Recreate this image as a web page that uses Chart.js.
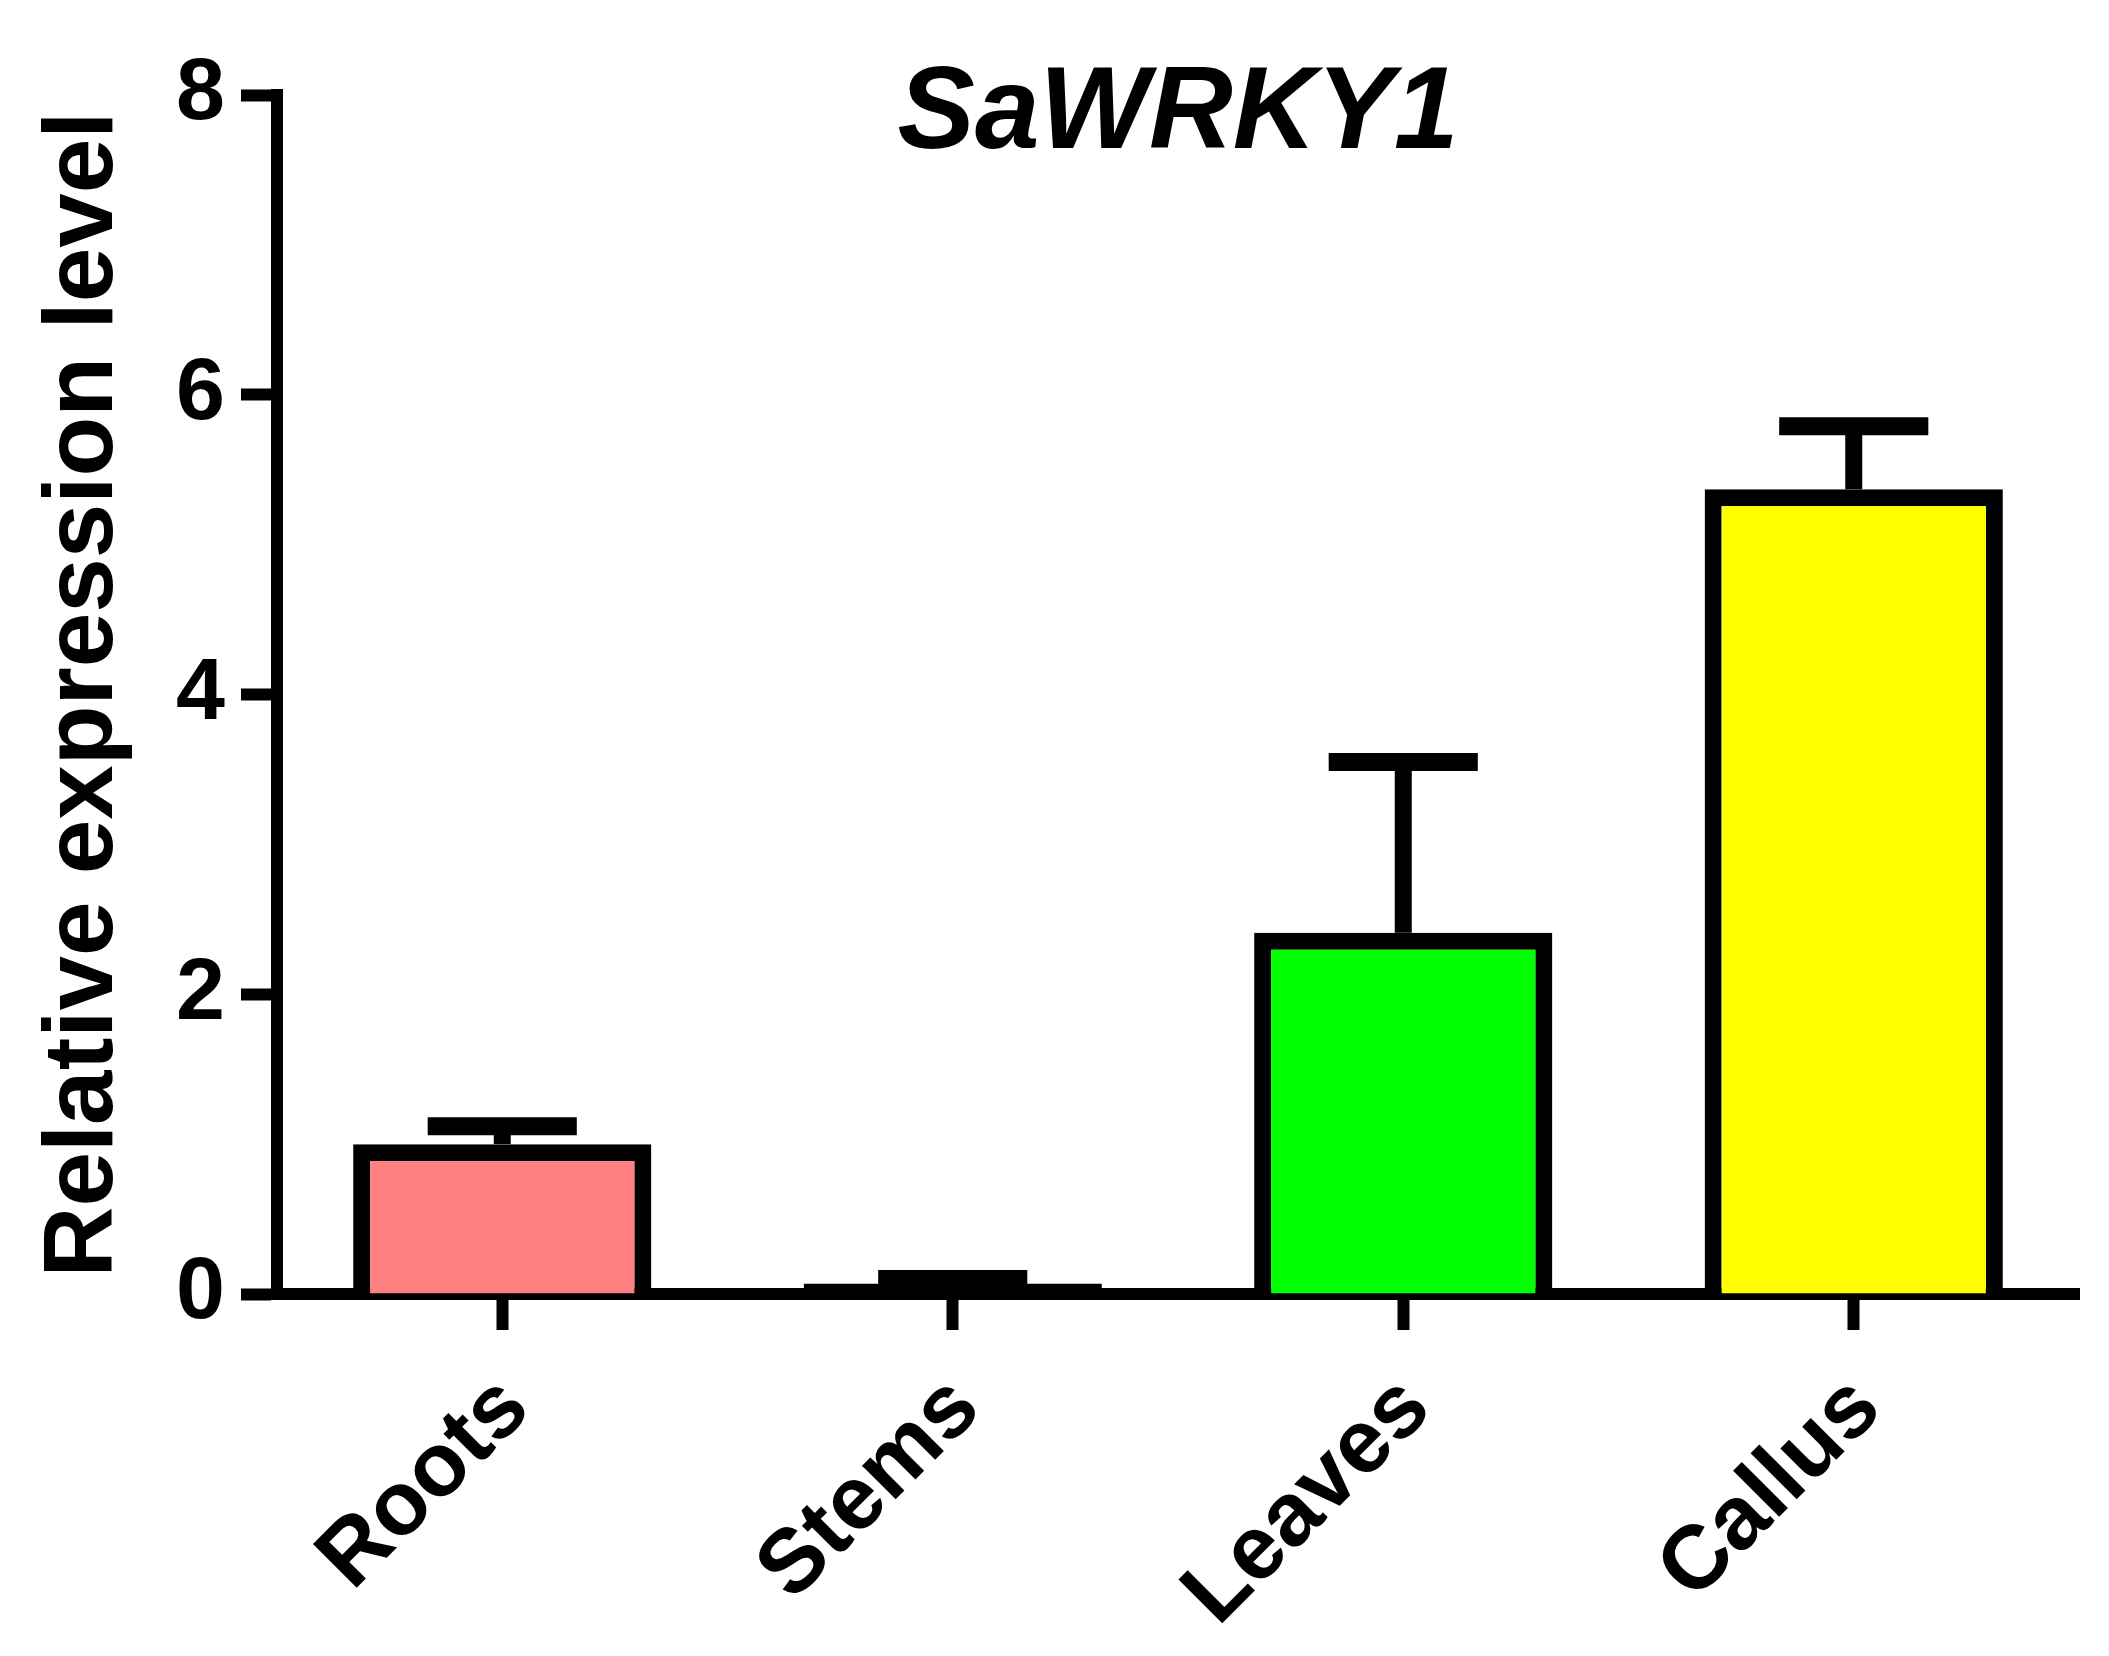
<!DOCTYPE html>
<html>
<head>
<meta charset="utf-8">
<script src="https://cdn.jsdelivr.net/npm/chart.js@4"></script>
<style>
  html, body { margin: 0; padding: 0; background: #fff; }
  #wrap { width: 2109px; height: 1656px; position: relative; }
</style>
</head>
<body>
<div id="wrap"><canvas id="exprChart"></canvas></div>
<script>
const tissues = ['Roots', 'Stems', 'Leaves', 'Callus'];
const meanExpr = [1.0, 0.07, 2.41, 5.37];
const sdExpr = [0.12, 0.03, 1.14, 0.42];
const barColors = ['#FF8080', '#000000', '#00FF00', '#FFFF00'];
const yTicks = [0, 2, 4, 6, 8];
const geneName = 'SaWRKY1';

const FONT = "'Liberation Sans', Arial, sans-serif";

// error bars drawn on top of the bars, using the chart's own scales
const errorBars = {
    id: 'errorBars',
    afterDatasetsDraw(chart) {
        const ctx = chart.ctx;
        const y = chart.scales.y;
        const meta = chart.getDatasetMeta(0);
        ctx.save();
        ctx.strokeStyle = '#000';
        ctx.lineCap = 'butt';
        meta.data.forEach((bar, i) => {
            const top = y.getPixelForValue(meanExpr[i] + sdExpr[i]);
            const base = y.getPixelForValue(meanExpr[i]);
            const half = bar.width / 4;
            ctx.lineWidth = 17;
            ctx.beginPath();
            ctx.moveTo(bar.x, base);
            ctx.lineTo(bar.x, top);
            ctx.stroke();
            ctx.lineWidth = 18;
            ctx.beginPath();
            ctx.moveTo(bar.x - half, top);
            ctx.lineTo(bar.x + half, top);
            ctx.stroke();
        });
        ctx.restore();
    }
};

// gene name in italics, sitting over the plot
const geneTitle = {
    id: 'geneTitle',
    afterDraw(chart) {
        const ctx = chart.ctx;
        const area = chart.chartArea;
        ctx.save();
        ctx.font = 'italic bold 116px ' + FONT;
        ctx.fillStyle = '#000';
        ctx.textAlign = 'center';
        ctx.textBaseline = 'alphabetic';
        ctx.fillText(geneName, (area.left + area.right) / 2, 148);
        ctx.restore();
    }
};

const ctx = document.getElementById('exprChart').getContext('2d');
const exprChart = new Chart(ctx, {
    type: 'bar',
    data: {
        labels: tissues,
        datasets: [{
            label: geneName,
            data: meanExpr,
            backgroundColor: barColors,
            borderColor: '#000',
            borderWidth: 17,
            borderSkipped: 'start',
            barPercentage: 0.662,
            categoryPercentage: 1.0
        }]
    },
    options: {
        responsive: true,
        maintainAspectRatio: false,
        animation: false,
        devicePixelRatio: 1,
        layout: { padding: { top: 95, right: 30, left: 0, bottom: 0 } },
        plugins: {
            legend: { display: false },
            tooltip: { enabled: false },
            title: { display: false }
        },
        scales: {
            x: {
                z: 1,
                offset: true,
                afterFit(scale) { scale.height = 362; },
                grid: {
                    offset: false,
                    drawOnChartArea: false,
                    drawTicks: true,
                    tickLength: 36,
                    tickWidth: 12,
                    tickColor: '#000'
                },
                border: { display: true, color: '#000', width: 12 },
                ticks: {
                    autoSkip: false,
                    minRotation: 45,
                    maxRotation: 45,
                    padding: 26,
                    labelOffset: 13,
                    color: '#000',
                    font: { family: FONT, size: 90, weight: 'bold' }
                }
            },
            y: {
                min: 0,
                max: 8,
                afterFit(scale) { scale.width = 277; },
                afterBuildTicks(scale) { scale.ticks = yTicks.map(v => ({ value: v })); },
                grid: {
                    drawOnChartArea: false,
                    drawTicks: true,
                    tickLength: 36,
                    tickWidth: 12,
                    tickColor: '#000'
                },
                border: { display: true, color: '#000', width: 12 },
                ticks: {
                    padding: 16,
                    color: '#000',
                    font: { family: FONT, size: 88, weight: 'bold' }
                },
                title: {
                    display: true,
                    text: 'Relative expression level',
                    color: '#000',
                    padding: { top: 26, bottom: 0 },
                    font: { family: FONT, size: 98, weight: 'bold' }
                }
            }
        }
    },
    plugins: [errorBars, geneTitle]
});
</script>
</body>
</html>
